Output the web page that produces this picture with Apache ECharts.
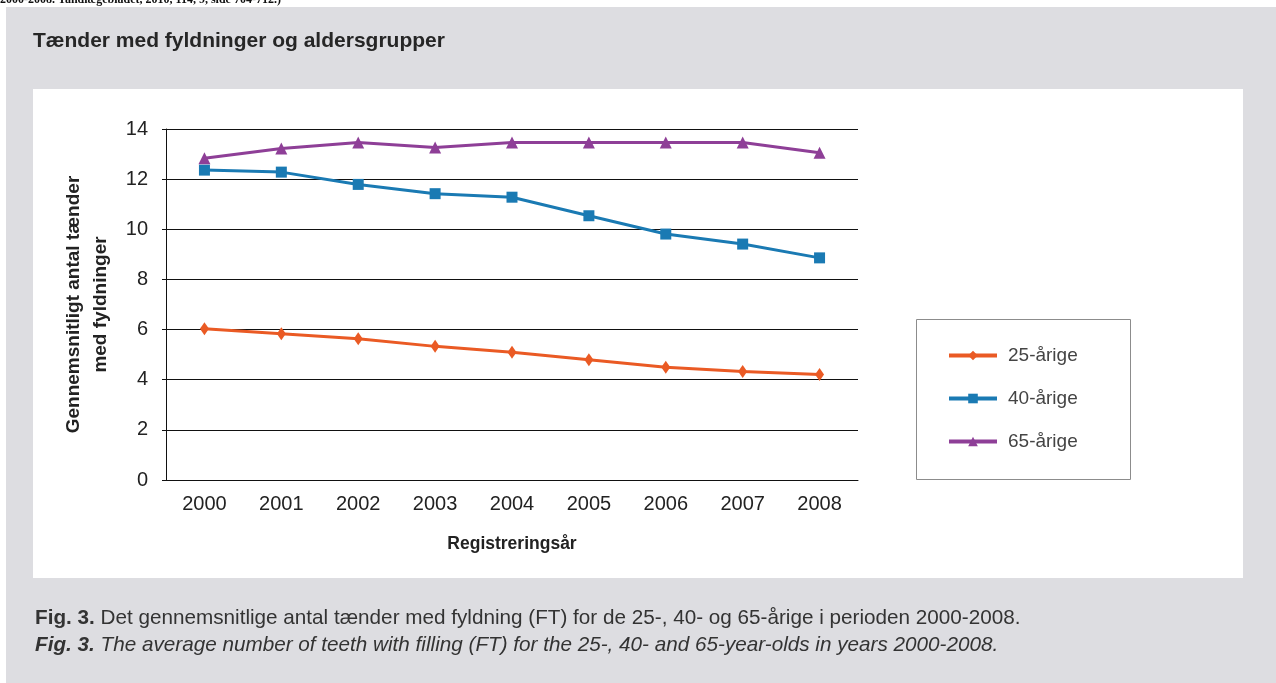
<!DOCTYPE html>
<html>
<head>
<meta charset="utf-8">
<script src="https://cdn.jsdelivr.net/npm/echarts@6/dist/echarts.min.js"></script>
<style>
  html, body { margin: 0; padding: 0; background: #ffffff; }
  #chart { width: 1276px; height: 683px; }
</style>
</head>
<body>
<div id="chart"></div>
<script>
// Registration years and average number of filled teeth per age group
const years = ['2000', '2001', '2002', '2003', '2004', '2005', '2006', '2007', '2008'];
const age25 = [6.03, 5.83, 5.63, 5.33, 5.10, 4.80, 4.50, 4.33, 4.21];
const age40 = [12.36, 12.28, 11.79, 11.42, 11.28, 10.54, 9.81, 9.41, 8.86];
const age65 = [12.83, 13.22, 13.46, 13.26, 13.46, 13.46, 13.46, 13.46, 13.05];
const seriesNames = ['25-årige', '40-årige', '65-årige'];
const yMin = 0, yMax = 14, yStep = 2;

const FONT = '"Liberation Sans", Arial, sans-serif';
const colors = ['#ea5a24', '#1a7ab3', '#8e3f97'];

const chart = echarts.init(document.getElementById('chart'), null, { renderer: 'canvas' });

function lineSeries(name, data, color, symbol, size) {
  return {
    name: name,
    type: 'line',
    data: data,
    symbol: symbol,
    symbolSize: size,
    showSymbol: true,
    lineStyle: { color: color, width: 3 },
    itemStyle: { color: color },
    z: 5
  };
}

chart.setOption({
  animation: false,
  backgroundColor: '#ffffff',
  textStyle: { fontFamily: FONT },
  graphic: [
    // cut-off reference line above the figure box
    { type: 'text', left: 0, top: -6, z: 0, silent: true,
      style: { text: '2000-2008. Tandlægebladet, 2010, 114, 9, side 704-712.)', fill: '#111',
               font: 'bold 12px "Liberation Serif", "Times New Roman", serif' } },
    // grey figure box
    { type: 'rect', z: -10, silent: true, shape: { x: 6, y: 7, width: 1270, height: 676 },
      style: { fill: '#dddde1' } },
    // white chart panel
    { type: 'rect', z: -9, silent: true, shape: { x: 33, y: 89, width: 1210, height: 489 },
      style: { fill: '#ffffff' } },
    // legend frame
    { type: 'rect', z: -8, silent: true, shape: { x: 916.5, y: 319.5, width: 214, height: 160 },
      style: { fill: '#ffffff', stroke: '#8c8c8c', lineWidth: 1 } },
    // panel heading
    { type: 'text', left: 33, top: 31, z: 1, silent: true,
      style: { text: 'Tænder med fyldninger og aldersgrupper', fill: '#262626',
               font: 'bold 21px ' + FONT } },
    // captions
    { type: 'text', left: 35, top: 608, z: 1, silent: true,
      style: {
        text: '{b|Fig. 3.} Det gennemsnitlige antal tænder med fyldning (FT) for de 25-, 40- og 65-årige i perioden 2000-2008.',
        fill: '#333', font: '20.7px ' + FONT,
        rich: { b: { fontWeight: 'bold', fontSize: 20.7, fontFamily: FONT, fill: '#333' } }
      } },
    { type: 'text', left: 35, top: 635, z: 1, silent: true,
      style: {
        text: '{b|Fig. 3.} The average number of teeth with filling (FT) for the 25-, 40- and 65-year-olds in years 2000-2008.',
        fill: '#333', font: 'italic 20.7px ' + FONT,
        rich: { b: { fontWeight: 'bold', fontStyle: 'italic', fontSize: 20.7, fontFamily: FONT, fill: '#333' } }
      } }
  ],
  legend: {
    orient: 'vertical',
    left: 942,
    top: 341,
    itemGap: 24,
    itemWidth: 48,
    itemHeight: 12,
    lineStyle: { width: 4 },
    data: seriesNames,
    textStyle: { fontSize: 19, color: '#444', fontFamily: FONT, padding: [0, 0, 0, 6] }
  },
  grid: { left: 166, right: 418, top: 129, bottom: 203, containLabel: false },
  xAxis: {
    type: 'category',
    data: years,
    boundaryGap: true,
    name: 'Registreringsår',
    nameLocation: 'middle',
    nameGap: 55,
    nameTextStyle: { fontSize: 17.5, fontWeight: 'bold', color: '#222', fontFamily: FONT },
    axisLine: { lineStyle: { color: '#111', width: 1 } },
    axisTick: { show: false },
    axisLabel: { fontSize: 20, color: '#222', margin: 14, fontFamily: FONT }
  },
  yAxis: {
    type: 'value',
    min: yMin, max: yMax, interval: yStep,
    name: 'Gennemsnitligt antal tænder\nmed fyldninger',
    nameLocation: 'middle',
    nameGap: 52,
    nameRotate: 90,
    nameTextStyle: { fontSize: 19, fontWeight: 'bold', color: '#222', fontFamily: FONT, lineHeight: 27 },
    axisLine: { show: true, lineStyle: { color: '#111', width: 1 } },
    axisTick: { show: true, length: 4, lineStyle: { color: '#111' } },
    splitLine: { show: true, lineStyle: { color: '#111', width: 1 } },
    axisLabel: { fontSize: 20, color: '#222', margin: 18, fontFamily: FONT }
  },
  series: [
    lineSeries(seriesNames[0], age25, colors[0], 'diamond', [9, 13]),
    lineSeries(seriesNames[1], age40, colors[1], 'rect', 11),
    lineSeries(seriesNames[2], age65, colors[2], 'triangle', 12)
  ]
});
</script>
</body>
</html>
